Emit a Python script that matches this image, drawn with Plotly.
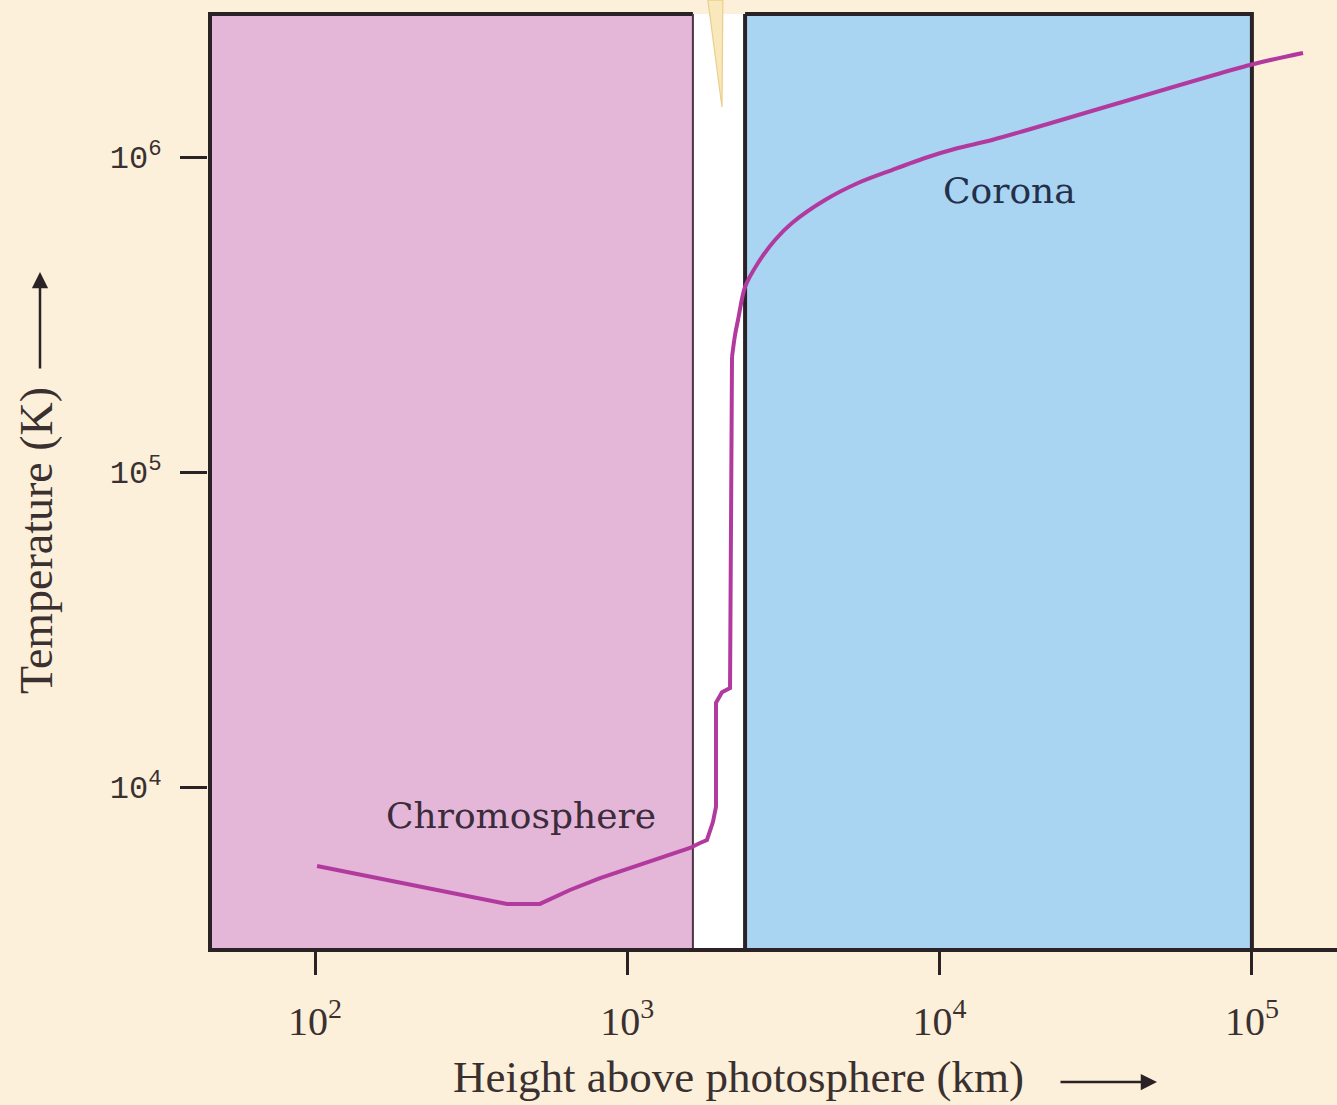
import plotly.graph_objects as go

# Temperature profile of the solar atmosphere (height in km, temperature in K)
height_km = [101.5, 412, 525, 655, 818, 1588, 1709, 1799, 1880, 1923, 1923, 2010, 2133,
             2164, 2213, 2262, 2382, 2621, 2971, 3369, 4296, 5480, 7041, 8980,
             11460, 14720, 98600, 145800]
temp_k = [5610, 4255, 4255, 4710, 5141, 6404, 6640, 6790, 7740, 8650, 18500, 20000, 20600,
          231800, 272200, 303800, 386600, 460800, 545200, 617300, 730300, 826900,
          909300, 992700, 1068000, 1132000, 1960000, 2139000]
# Index where the steep transition ends and the smooth coronal rise begins
corona_start = 13

# Layer boundaries (km) and the framed window (km, K)
chromosphere_top_km = 1622
corona_base_km = 2383
frame_right_km = 1.0e5
frame_top_k = 2.844e6

# Spicule rising from the top of the transition gap
spicule_x = [1811, 2023, 2010, 1811]
spicule_y = [3.15e6, 3.15e6, 1.44e6, 3.15e6]

x_tickvals = [1e2, 1e3, 1e4, 1e5]
x_ticktext = ["10<sup>2</sup>", "10<sup>3</sup>", "10<sup>4</sup>", "10<sup>5</sup>"]
y_tickvals = [1e4, 1e5, 1e6]
y_ticktext = ["10<sup>4</sup>", "10<sup>5</sup>", "10<sup>6</sup>"]

x_range = [1.65738, 5.27250]
y_range = [3.48889, 6.49841]
y_bottom = 10 ** y_range[0]
x_left = 10 ** x_range[0]

BG = "#FCF0DA"
PINK = "#E4B6D8"
BLUE = "#A9D5F3"
INK = "#2B2226"
CURVE = "#B23A9E"
TEXT = "#3A3030"

fig = go.Figure()


def band(x0, x1, color):
    fig.add_trace(go.Scatter(
        x=[x0, x1, x1, x0, x0], y=[y_bottom, y_bottom, frame_top_k, frame_top_k, y_bottom],
        mode="lines", fill="toself", fillcolor=color, line=dict(width=0),
        hoverinfo="skip", showlegend=False))


band(x_left, chromosphere_top_km, PINK)
band(chromosphere_top_km, corona_base_km, "#FFFFFF")
band(corona_base_km, frame_right_km, BLUE)

# Spicule
fig.add_trace(go.Scatter(
    x=spicule_x, y=spicule_y, mode="lines", fill="toself", fillcolor="#F8E8BC",
    line=dict(color="#EACF8A", width=1.2), hoverinfo="skip", showlegend=False))

# Frame: top edges, right edge, left edge and layer boundaries
fig.add_trace(go.Scatter(
    x=[x_left, chromosphere_top_km, None, corona_base_km, frame_right_km, frame_right_km],
    y=[frame_top_k, frame_top_k, None, frame_top_k, frame_top_k, y_bottom],
    mode="lines", line=dict(color=INK, width=4), hoverinfo="skip", showlegend=False))
fig.add_trace(go.Scatter(
    x=[x_left, x_left], y=[y_bottom, frame_top_k * 1.01],
    mode="lines", line=dict(color=INK, width=8), hoverinfo="skip", showlegend=False))
fig.add_trace(go.Scatter(
    x=[chromosphere_top_km, chromosphere_top_km], y=[y_bottom, frame_top_k],
    mode="lines", line=dict(color="#4A3444", width=2), hoverinfo="skip", showlegend=False))
fig.add_trace(go.Scatter(
    x=[corona_base_km, corona_base_km], y=[y_bottom, frame_top_k],
    mode="lines", line=dict(color=INK, width=4), hoverinfo="skip", showlegend=False))

# Temperature curve: chromosphere and transition region, then the coronal rise
fig.add_trace(go.Scatter(
    x=height_km[:corona_start + 1], y=temp_k[:corona_start + 1], mode="lines",
    line=dict(color=CURVE, width=4), hoverinfo="skip", showlegend=False))
fig.add_trace(go.Scatter(
    x=height_km[corona_start:], y=temp_k[corona_start:], mode="lines",
    line=dict(color=CURVE, width=4, shape="spline", smoothing=0.8),
    hoverinfo="skip", showlegend=False))

W, H = 1337, 1105
ML, MB = 208, 157
PW, PH = W - ML, H - MB


def px(xp):
    return (xp - ML) / PW


def py(yp):
    return 1 - yp / PH


def label(text, x, y, size, family, color, angle=0):
    return dict(text=text, x=px(x), y=py(y), xref="paper", yref="paper",
                xanchor="center", yanchor="middle", showarrow=False, textangle=angle,
                font=dict(family=family, size=size, color=color))


annotations = [
    label("Chromosphere", 521, 815, 36, "DejaVu Serif", "#3B2B3B"),
    label("Corona", 1009, 190, 36, "DejaVu Serif", "#243049"),
    label("Height above photosphere (km)", 738, 1077, 45, "Liberation Serif", TEXT),
    label("Temperature (K)", 36, 541, 46, "Liberation Serif", TEXT, angle=-90),
    dict(text="", x=px(1157), y=py(1082), xref="paper", yref="paper", showarrow=True,
         ax=-98, ay=0, arrowhead=2, arrowsize=1.3, arrowwidth=2.5, arrowcolor=INK),
    dict(text="", x=px(40), y=py(272), xref="paper", yref="paper", showarrow=True,
         ax=0, ay=98, arrowhead=2, arrowsize=1.3, arrowwidth=2.5, arrowcolor=INK),
]

fig.update_layout(
    width=W, height=H,
    margin=dict(l=ML, r=0, t=0, b=MB),
    paper_bgcolor=BG, plot_bgcolor=BG,
    showlegend=False,
    annotations=annotations,
    xaxis=dict(type="log", range=x_range, tickvals=x_tickvals, ticktext=x_ticktext,
               ticks="outside", ticklen=23, tickwidth=3, tickcolor=INK,
               showline=True, linecolor=INK, linewidth=4, showgrid=False,
               zeroline=False, ticklabelstandoff=12,
               tickfont=dict(family="Liberation Serif", size=40, color=TEXT)),
    yaxis=dict(type="log", range=y_range, tickvals=y_tickvals, ticktext=y_ticktext,
               ticks="outside", ticklen=27, tickwidth=3, tickcolor=INK,
               showline=False, showgrid=False, zeroline=False, ticklabelstandoff=12,
               tickfont=dict(family="Liberation Mono", size=32, color=TEXT)),
)

fig.write_html("out.html")
